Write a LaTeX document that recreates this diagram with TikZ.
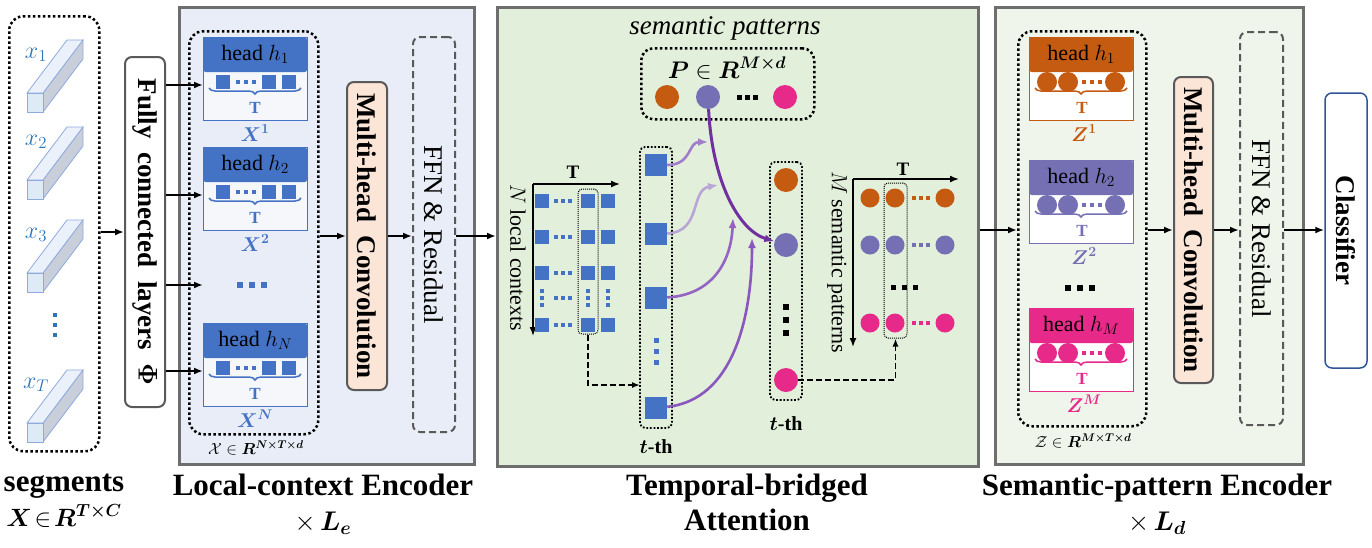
\RequirePackage{fix-cm}
\documentclass[tikz,border=0pt]{standalone}
\usepackage{amsmath}
\usepackage{graphicx}
\usepackage{fontspec}
\setmainfont{Liberation Serif}
\usetikzlibrary{arrows.meta, positioning, calc, decorations.pathreplacing}
\definecolor{framegray}{HTML}{6E6E6E}
\definecolor{lcbg}{HTML}{E9EDF7}
\definecolor{tbbg}{HTML}{E2EFDA}
\definecolor{spbg}{HTML}{EFF5EA}
\definecolor{hblue}{HTML}{4472C4}
\definecolor{xblue}{HTML}{2E75B6}
\definecolor{porange}{HTML}{C55A11}
\definecolor{ppurple}{HTML}{7570B3}
\definecolor{ppink}{HTML}{E7298A}
\definecolor{peach}{HTML}{FBE5D6}
\definecolor{boxgray}{HTML}{595959}
\definecolor{segfront}{HTML}{DEEBF7}
\definecolor{segtop}{HTML}{EAF1FA}
\definecolor{segside}{HTML}{C8CEDA}
\definecolor{segedge}{HTML}{8FAADC}
\definecolor{attdark}{HTML}{7030A0}
\definecolor{attone}{HTML}{A27DCB}
\definecolor{atttwo}{HTML}{B9A5D8}
\definecolor{attthree}{HTML}{9564C2}
\definecolor{attfour}{HTML}{8A57BE}
\definecolor{clsblue}{HTML}{2F5597}

\begin{document}
\begin{tikzpicture}[
    x=1pt, y=-1pt,
    frame/.style={draw=framegray, line width=2.5pt, anchor=north west, inner sep=0pt},
    bigdot/.style={draw, line width=2.5pt, dash pattern=on 2.5pt off 2.5pt, rounded corners=14pt, anchor=north west, inner sep=0pt},
    meddot/.style={draw, line width=1.8pt, dash pattern=on 1.8pt off 1.8pt, rounded corners=5pt, inner sep=0pt},
    thindot/.style={draw, line width=1pt, dash pattern=on 1pt off 1pt, rounded corners=4pt, inner sep=0pt},
    arrow/.style={-{Latex[length=9pt,width=7pt]}, line width=1.8pt},
    axis/.style={-{Latex[length=9pt,width=7pt]}, line width=1.5pt},
    dasharrow/.style={-{Latex[length=8pt,width=6pt]}, line width=1.6pt, dash pattern=on 6pt off 3pt},
    attarrow/.style={-{Latex[length=10pt,width=8pt]}, line width=2.6pt},
    vbox/.style={rounded corners=7pt, line width=2pt, inner sep=0pt, font=\fontsize{27}{30}\selectfont\bfseries},
    mhc/.style={vbox, draw=boxgray, fill=peach},
    ffn/.style={vbox, draw=boxgray, dash pattern=on 7pt off 4pt, font=\fontsize{27}{30}\selectfont},
    hbody/.style={anchor=north west, minimum width=104pt, minimum height=83pt, inner sep=0pt, line width=1.3pt},
    hhead/.style={anchor=north west, minimum width=104pt, minimum height=35pt, inner sep=0pt, rounded corners=3pt, font=\fontsize{22}{24}\selectfont},
    sqr/.style={fill=hblue, minimum size=14pt, inner sep=0pt},
    bigsq/.style={fill=hblue, minimum size=22pt, inner sep=0pt},
    circ/.style={circle, minimum size=24pt, inner sep=0pt},
    scirc/.style={circle, minimum size=19pt, inner sep=0pt},
    brace/.style={decorate, decoration={brace, mirror, amplitude=6pt}, line width=1.5pt},
    tlab/.style={font=\fontsize{17}{18}\selectfont\bfseries, inner sep=0pt},
    xlab/.style={font=\fontsize{20}{22}\selectfont, inner sep=0pt},
    seglab/.style={font=\fontsize{24}{26}\selectfont, text=xblue, inner sep=0pt},
    sidelab/.style={font=\fontsize{22}{24}\selectfont, inner sep=0pt},
    tthlab/.style={font=\fontsize{20}{22}\selectfont\bfseries, inner sep=0pt},
    lbl/.style={font=\fontsize{31}{35}\selectfont\bfseries, align=center, anchor=north, inner sep=0pt}
]
\useasboundingbox (0,0) rectangle (1372,547);

% segments
\node[bigdot, minimum width=90pt, minimum height=435pt] (segbox) at (8,15) {};
\foreach \n/\yy/\lab in {1/93/1, 2/180/2, 3/273/3, 4/423/T} {
    \filldraw[fill=segside, draw=segedge, line width=0.8pt] (43,\yy) -- (83,\yy-53) -- (83,\yy-34) -- (43,\yy+19) -- cycle;
    \filldraw[fill=segtop, draw=segedge, line width=0.8pt] (27,\yy) -- (67,\yy-53) -- (83,\yy-53) -- (43,\yy) -- cycle;
    \filldraw[fill=segfront, draw=segedge, line width=0.8pt] (27,\yy) rectangle (43,\yy+19);
    \node[seglab] (x\n) at (36,\yy-38) {$x_{\lab}$};
}
\foreach \yy in {315,325,335} \fill[xblue] (53,\yy-2) rectangle (57,\yy+2);

\node[vbox, draw=boxgray, fill=white, minimum width=40pt, minimum height=350pt] (fc) at (145,232) {\rotatebox{-90}{Fully\ \ connected\ \ layers\ \ $\boldsymbol{\Phi}$}};
\draw[arrow] (segbox.east |- fc) -- (fc);

% frames
\node[frame, fill=lcbg, minimum width=295pt, minimum height=457pt] (lcframe) at (178,6) {};
\node[frame, fill=tbbg, minimum width=481pt, minimum height=459pt] (tbframe) at (496,6) {};
\node[frame, fill=spbg, minimum width=308pt, minimum height=457pt] (spframe) at (994,6) {};

% local-context encoder
\node[bigdot, minimum width=129pt, minimum height=403pt] (ldbox) at (188,30) {};
\foreach \n/\yy/\hs in {1/37/1, 2/147/2, 3/323/N} {
    \node[hbody, draw=hblue, fill=white!55!lcbg] (lh\n) at (203,\yy) {};
    \node[hhead, fill=hblue] (lhh\n) at (203,\yy) {head $h_{\hs}$};
    \node[sqr] (lh\n-a) at (223,\yy+45) {};
    \node[sqr] (lh\n-b) at (269,\yy+45) {};
    \node[sqr] (lh\n-c) at (289,\yy+45) {};
    \foreach \dx in {238,246,254} \fill[hblue] (\dx-2,\yy+43) rectangle (\dx+2,\yy+47);
    \draw[brace, hblue] (209,\yy+51) -- (301,\yy+51);
    \node[tlab, text=hblue] (lt\n) at (255,\yy+71) {T};
    \node[xlab, text=hblue] (lx\n) at (255,\yy+96) {$\boldsymbol{X}^{\boldsymbol{\hs}}$};
    \coordinate (lin\n) at (203,\yy+48);
}
\foreach \dx in {240,252,264} \fill[hblue] (\dx-3,282) rectangle (\dx+3,288);
\coordinate (lin4) at (203,285);
\foreach \n in {1,2,3,4} \draw[arrow] (fc.east |- lin\n) -- (lin\n);
\node[font=\fontsize{16}{18}\selectfont, inner sep=0pt] (xcal) at (256,448) {$\mathcal{X}\in\boldsymbol{R}^{\boldsymbol{N\times T\times d}}$};

\node[mhc, minimum width=40pt, minimum height=308pt] (lmhc) at (367,236) {\rotatebox{-90}{Multi-head\ \ Convolution}};
\node[ffn, minimum width=42pt, minimum height=395pt] (lffn) at (434,234.5) {\rotatebox{-90}{FFN \& Residual}};
\draw[arrow] (ldbox.east |- lmhc) -- (lmhc);
\draw[arrow] (lmhc.east) -- (lffn.west |- lmhc.east);
\draw[arrow] (lffn.east |- lmhc.east) -- (tbframe.west |- lmhc.east);

% temporal-bridged attention
\node[font=\fontsize{27}{30}\selectfont\itshape, inner sep=0pt] (semlab) at (725,28) {semantic patterns};
\node[bigdot, minimum width=173pt, minimum height=71pt, rounded corners=12pt] (pbox) at (640,47) {};
\node[font=\fontsize{24}{26}\selectfont, inner sep=0pt] (plab) at (727,68) {$\boldsymbol{P}\in\boldsymbol{R}^{\boldsymbol{M\times d}}$};
\node[circ, fill=porange] (p1) at (667,97) {};
\node[circ, fill=ppurple] (p2) at (708,97) {};
\node[circ, fill=ppink] (p3) at (785,97) {};
\foreach \dx in {739,747,755} \fill (\dx-2.5,94.5) rectangle (\dx+2.5,99.5);

\coordinate (lorig) at (533,184);
\coordinate (lxend) at (620,184);
\coordinate (lyend) at (533,336);
\draw[axis] (lorig) -- (lxend);
\draw[axis] (lorig) -- (lyend);
\node[tlab, font=\fontsize{19}{20}\selectfont\bfseries] (lT) at (573,172) {T};
\node[sidelab] (nlab) at (518,258) {\rotatebox{-90}{$N$ local contexts}};
\foreach \r/\yy in {1/201, 2/237, 3/273, 4/325} {
    \node[sqr] (m\r-a) at (542,\yy) {};
    \node[sqr] (m\r-b) at (588,\yy) {};
    \node[sqr] (m\r-c) at (608,\yy) {};
    \foreach \dx in {556,563,570} \fill[hblue] (\dx-2,\yy-2) rectangle (\dx+2,\yy+2);
}
\foreach \xx in {542,588,608} \foreach \yy in {291,298,305} \fill[hblue] (\xx-2,\yy-2) rectangle (\xx+2,\yy+2);
\foreach \dx in {556,563,570} \fill[hblue] (\dx-2,296) rectangle (\dx+2,300);
\node[thindot, minimum width=20pt, minimum height=145pt] (lcol) at (588,261.5) {};

\node[meddot, minimum width=32pt, minimum height=281pt] (tcol) at (656,287.5) {};
\node[bigsq] (s1) at (656,165) {};
\node[bigsq] (s2) at (656,234) {};
\node[bigsq] (s3) at (656,298) {};
\node[bigsq] (s4) at (656,408) {};
\foreach \yy in {340,351,362} \fill[hblue] (653.5,\yy-2.5) rectangle (658.5,\yy+2.5);
\node[tthlab] (tth1) at (656,447) {$\boldsymbol{t}$-th};

\node[meddot, minimum width=32pt, minimum height=238pt] (ccol) at (786,281) {};
\node[circ, fill=porange] (c1) at (786,180) {};
\node[circ, fill=ppurple] (c2) at (786,245) {};
\node[circ, fill=ppink] (c3) at (786,380) {};
\foreach \yy in {307,320,333} \fill (783,\yy-3) rectangle (789,\yy+3);
\node[tthlab] (tth2) at (786,424) {$\boldsymbol{t}$-th};

\coordinate (j1) at (708,142);
\coordinate (j2) at (718,185);
\coordinate (j3) at (733,218);
\coordinate (j4) at (752,238);
\draw[attarrow, attone] (s1) .. controls (692,165) and (688,142) .. (j1);
\draw[attarrow, atttwo] (s2) .. controls (702,232) and (690,190) .. (j2);
\draw[attarrow, attthree] (s3) .. controls (712,295) and (731,262) .. (j3);
\draw[attarrow, attfour] (s4) .. controls (732,400) and (752,320) .. (j4);
\draw[attarrow, attdark, line width=3pt] (p2) .. controls (712,180) and (738,230) .. (c2);

\coordinate (tin) at (640,385);
\draw[dasharrow] (lcol.south) |- (tin);

\coordinate (morig) at (853,179);
\coordinate (mxend) at (959,179);
\coordinate (myend) at (853,347);
\draw[axis] (morig) -- (mxend);
\draw[axis] (morig) -- (myend);
\node[tlab, font=\fontsize{19}{20}\selectfont\bfseries] (mT) at (903,169) {T};
\node[sidelab] (mlab) at (837,262) {\rotatebox{-90}{$M$ semantic patterns}};
\foreach \r/\yy/\col in {1/198/porange, 2/245/ppurple, 3/323/ppink} {
    \node[scirc, fill=\col] (mc\r-a) at (870,\yy) {};
    \node[scirc, fill=\col] (mc\r-b) at (895,\yy) {};
    \node[scirc, fill=\col] (mc\r-c) at (945,\yy) {};
    \foreach \dx in {914,921,928} \fill[\col] (\dx-2,\yy-2) rectangle (\dx+2,\yy+2);
}
\foreach \dx in {893,904,915} \fill (\dx-2.5,284.5) rectangle (\dx+2.5,289.5);
\node[thindot, minimum width=23pt, minimum height=155pt] (mcol) at (895.5,260.5) {};
\draw[dasharrow] (c3) -| (mcol.south);

% semantic-pattern encoder
\node[bigdot, minimum width=128pt, minimum height=395pt] (rdbox) at (1017,30) {};
\foreach \n/\yy/\hs/\col in {1/37/1/porange, 2/160/2/ppurple, 3/308/M/ppink} {
    \node[hbody, draw=\col, fill=white] (rh\n) at (1029,\yy) {};
    \node[hhead, fill=\col] (rhh\n) at (1029,\yy) {head $h_{\hs}$};
    \node[scirc, minimum size=20pt, fill=\col] (rh\n-a) at (1047,\yy+45) {};
    \node[scirc, minimum size=20pt, fill=\col] (rh\n-b) at (1068,\yy+45) {};
    \node[scirc, minimum size=20pt, fill=\col] (rh\n-c) at (1115,\yy+45) {};
    \foreach \dx in {1084,1092,1100} \fill[\col] (\dx-2,\yy+43) rectangle (\dx+2,\yy+47);
    \draw[brace, \col] (1035,\yy+51) -- (1127,\yy+51);
    \node[tlab, text=\col] (rt\n) at (1082,\yy+71) {T};
    \node[xlab, text=\col] (rz\n) at (1084,\yy+96) {$\boldsymbol{Z}^{\boldsymbol{\hs}}$};
}
\foreach \dx in {1068,1080,1092} \fill (\dx-3,285) rectangle (\dx+3,291);
\node[font=\fontsize{16}{18}\selectfont, inner sep=0pt] (zcal) at (1083,441) {$\mathcal{Z}\in\boldsymbol{R}^{\boldsymbol{M\times T\times d}}$};

\node[mhc, minimum width=39pt, minimum height=306pt] (rmhc) at (1193.5,230) {\rotatebox{-90}{Multi-head\ \ Convolution}};
\node[ffn, minimum width=43pt, minimum height=393pt] (rffn) at (1261.5,228.5) {\rotatebox{-90}{FFN \& Residual}};
\node[vbox, draw=clsblue, line width=1.5pt, fill=white, minimum width=42pt, minimum height=275pt] (cls) at (1346,230.5) {\rotatebox{-90}{Classifier}};
\draw[arrow] (tbframe.east |- rmhc) -- (rdbox.west |- rmhc);
\draw[arrow] (rdbox.east |- rmhc) -- (rmhc);
\draw[arrow] (rmhc.east) -- (rffn.west |- rmhc.east);
\draw[arrow] (rffn.east |- rmhc.east) -- (cls.west |- rmhc.east);

% captions
\node[lbl] (seglbl) at (64,474) {segments\\{\fontsize{25}{35}\selectfont$\boldsymbol{X}\!\in\!\boldsymbol{R}^{\boldsymbol{T\times C}}$}};
\node[lbl] (lclbl) at (323,474) {Local-context Encoder\\{\fontsize{27}{35}\selectfont$\times\,\boldsymbol{L_e}$}};
\node[lbl] (tblbl) at (747,474) {Temporal-bridged\\Attention};
\node[lbl] (splbl) at (1157,474) {Semantic-pattern Encoder\\{\fontsize{27}{35}\selectfont$\times\,\boldsymbol{L_d}$}};
\end{tikzpicture}
\end{document}
